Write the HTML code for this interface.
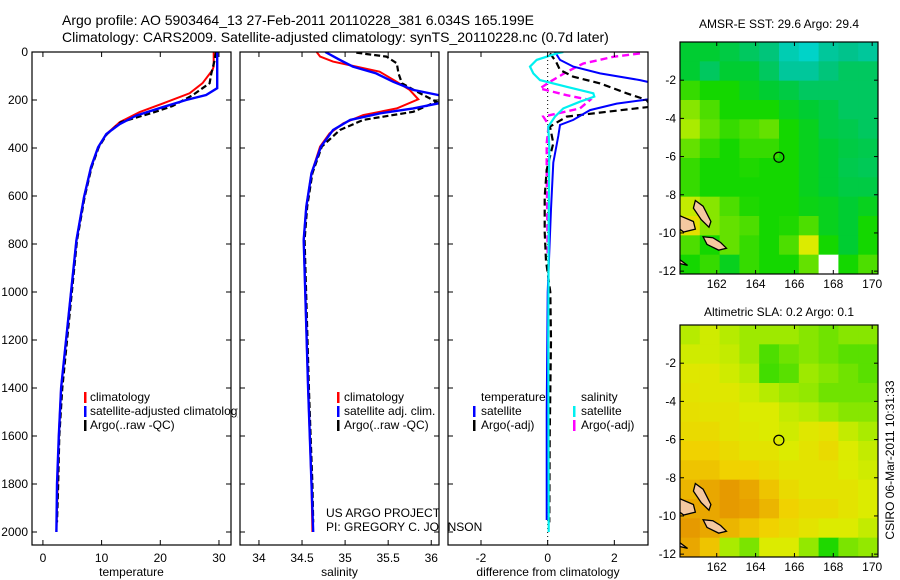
<!DOCTYPE html>
<html><head><meta charset="utf-8"><style>
html,body{margin:0;padding:0;background:#fff;}
svg{display:block;font-family:"Liberation Sans",sans-serif;}
</style></head><body>
<svg id="fig" width="900" height="580" xmlns="http://www.w3.org/2000/svg">
<rect width="900" height="580" fill="#fff"/>
<text x="62" y="25" font-size="14">Argo profile: AO 5903464_13 27-Feb-2011 20110228_381 6.034S 165.199E</text>
<text x="62" y="42" font-size="14">Climatology: CARS2009. Satellite-adjusted climatology: synTS_20110228.nc (0.7d later)</text>
<g id="root"></g>
</svg>
<script>
// ---------- data ----------
const tempClimDepth=[0,60,75,130,172,215,250,292,342,397,480,605,785,1400,1600,1800,2000];
const tempClim=[29.1,29.1,28.9,27.2,25.0,20.4,16.5,13.1,10.8,9.4,8.2,7.0,5.7,3.1,2.7,2.5,2.3];
const tempSatDepth=[0,151,179,200,230,265,300,342,397,480,605,785,1400,1600,1800,2000];
const tempSat=[29.7,29.7,27.8,24.4,20.4,15.9,13.1,10.8,9.4,8.2,7.0,5.7,3.1,2.7,2.4,2.3];
const tempArgoDepth=[0,40,90,130,180,225,253,292,342,397,480,605,785,1400,1600,1800,1960];
const tempArgo=[29.5,29.2,28.7,28.4,25.5,22.1,18.7,13.3,10.9,9.5,8.3,7.1,5.8,3.3,2.8,2.6,2.4];

const salClimDepth=[0,19,40,61,82,124,158,197,235,263,297,339,394,505,644,783,1400,1600,1800,2000];
const salClim=[34.67,34.71,34.86,35.13,35.40,35.60,35.75,35.85,35.60,35.21,34.98,34.82,34.71,34.61,34.55,34.52,34.57,34.59,34.61,34.62];
const salSatDepth=[0,33,61,89,124,158,179,195,214,235,256,283,325,394,505,644,783,1400,1600,1800,2000];
const salSat=[34.77,34.94,35.09,35.36,35.56,35.79,36.08,36.25,36.08,35.79,35.40,35.06,34.86,34.72,34.61,34.55,34.52,34.57,34.59,34.61,34.63];
const salArgoDepth=[3,19,47,89,131,172,207,249,283,325,394,505,644,783,1400,1600,1800,1960];
const salArgo=[35.13,35.48,35.60,35.62,35.66,35.87,36.06,35.79,35.21,34.94,34.73,34.62,34.56,34.53,34.58,34.60,34.62,34.63];

const dTempSatDepth=[0,33,61,89,117,131,194,215,242,283,304,350,461,655,1000,1500,1950];
const dTempSat=[0.22,0.37,0.77,1.57,2.77,3.2,3.2,2.07,1.27,0.77,0.37,0.32,0.17,0.1,0.0,-0.03,-0.03];
const dTempArgoDepth=[6,40,75,103,131,172,200,228,249,269,311,380,491,603,750,870,1000,1200,1600,1960];
const dTempArgo=[0.07,0.25,0.37,0.77,1.57,2.37,2.97,3.1,1.77,0.57,0.07,0.17,-0.03,-0.09,-0.09,-0.05,0.08,0.1,0.06,0.05];
const dSalSatDepth=[0,6,33,61,89,117,145,172,186,207,235,269,311,400,700,1200,2000];
const dSalSat=[0.47,0.27,-0.33,-0.53,-0.43,-0.23,0.57,1.37,1.40,0.97,0.47,0.22,0.02,0.05,0.03,0.02,0.03];
const dSalArgoDepth=[6,20,48,83,124,152,180,200,235,269,304,380,491,845];
const dSalArgo=[2.77,1.97,1.07,0.57,0.07,-0.23,0.57,1.27,0.97,-0.13,0.03,-0.03,-0.03,0.0];

// map values on colour scale (0..1), -1 = missing; rows lat 0..-12, cols lon 160.1..170.3
const sstGrid=[
[0.50,0.50,0.48,0.45,0.42,0.35,0.32,0.38,0.40,0.38],
[0.50,0.45,0.50,0.50,0.45,0.38,0.38,0.42,0.45,0.45],
[0.58,0.55,0.55,0.52,0.50,0.48,0.45,0.45,0.45,0.45],
[0.65,0.60,0.55,0.55,0.55,0.52,0.50,0.48,0.45,0.45],
[0.68,0.62,0.58,0.60,0.62,0.55,0.52,0.48,0.47,0.45],
[0.62,0.58,0.55,0.58,0.58,0.55,0.52,0.50,0.48,0.47],
[0.58,0.55,0.55,0.56,0.55,0.55,0.52,0.50,0.47,0.46],
[0.58,0.55,0.55,0.55,0.55,0.55,0.52,0.50,0.48,0.48],
[0.70,0.65,0.60,0.56,0.55,0.55,0.53,0.52,0.50,0.52],
[0.75,0.65,0.62,0.60,0.55,0.56,0.60,0.52,0.50,0.55],
[0.60,0.55,0.62,0.58,0.55,0.60,0.72,0.55,0.50,0.55],
[0.55,0.58,0.52,0.58,0.55,0.55,0.62,-1,0.55,0.60]];
const slaGrid=[
[0.69,0.71,0.69,0.67,0.67,0.67,0.65,0.63,0.65,0.65],
[0.71,0.71,0.70,0.67,0.60,0.63,0.65,0.63,0.61,0.61],
[0.73,0.73,0.71,0.69,0.59,0.61,0.67,0.65,0.63,0.61],
[0.74,0.73,0.73,0.71,0.69,0.67,0.66,0.63,0.63,0.63],
[0.75,0.74,0.74,0.72,0.72,0.70,0.69,0.67,0.65,0.65],
[0.76,0.76,0.74,0.73,0.72,0.71,0.73,0.74,0.70,0.68],
[0.78,0.78,0.76,0.74,0.74,0.72,0.74,0.76,0.72,0.70],
[0.80,0.80,0.78,0.78,0.76,0.74,0.74,0.74,0.72,0.71],
[0.82,0.84,0.86,0.84,0.80,0.76,0.74,0.74,0.74,0.72],
[0.84,0.84,0.86,0.85,0.82,0.78,0.76,0.76,0.74,0.72],
[0.86,0.84,0.82,0.80,0.78,0.76,0.74,0.72,0.72,0.70],
[0.84,0.80,0.68,0.64,0.72,0.72,0.66,0.56,0.64,0.66]];
const floatLon=165.199, floatLat=-6.034;
const depthTicks=[0,200,400,600,800,1000,1200,1400,1600,1800,2000];
const tempTicks=[0,10,20,30];
const salTicks=[34,34.5,35,35.5,36];
const diffTicks=[-2,0,2];
const latTicks=[-2,-4,-6,-8,-10,-12];
const lonTicks=[162,164,166,168,170];

// ---------- helpers ----------
const NS='http://www.w3.org/2000/svg';
const root=document.getElementById('root');
function mk(tag,attrs,parent){const e=document.createElementNS(NS,tag);for(const k in attrs)e.setAttribute(k,attrs[k]);(parent||root).appendChild(e);return e;}
const yTop=52, yBot=545, pxPerM=0.24;
const yDepth=d=>yTop+d*pxPerM;
const defs=mk('defs',{});

const panels=[
 {id:'temp',x0:32,x1:231,v0:-1.86,v1:32.05,ticks:tempTicks,label:'temperature'},
 {id:'sal',x0:240,x1:439,v0:33.78,v1:36.09,ticks:salTicks,label:'salinity'},
 {id:'diff',x0:448,x1:648,v0:-2.99,v1:3.01,ticks:diffTicks,label:'difference from climatology'}];
panels.forEach(p=>{p.sx=v=>p.x0+(v-p.v0)/(p.v1-p.v0)*(p.x1-p.x0);
 const cp=mk('clipPath',{id:'clip-'+p.id},defs);mk('rect',{x:p.x0,y:yTop,width:p.x1-p.x0,height:yBot-yTop},cp);});

function drawLine(p,depths,vals,color,w,dash,name){
 const pts=depths.map((d,i)=>p.sx(vals[i]).toFixed(1)+','+yDepth(d).toFixed(1)).join(' ');
 const e=mk('polyline',{points:pts,fill:'none',stroke:color,'stroke-width':w,'clip-path':'url(#clip-'+p.id+')'});
 if(dash)e.setAttribute('stroke-dasharray',dash);
 
 
}
const [pT,pS,pD]=panels;
drawLine(pT,tempClimDepth,tempClim,'#f00',2,null,'temp-climatology-line');
drawLine(pT,tempArgoDepth,tempArgo,'#000',2.2,'6,3','temp-argo-line');
drawLine(pT,tempSatDepth,tempSat,'#0000ff',2.4,null,'temp-satellite-line');
drawLine(pS,salClimDepth,salClim,'#f00',2,null,'sal-climatology-line');
drawLine(pS,salArgoDepth,salArgo,'#000',2.2,'6,3','sal-argo-line');
drawLine(pS,salSatDepth,salSat,'#0000ff',2.4,null,'sal-satellite-line');
const zl=mk('line',{x1:pD.sx(0),x2:pD.sx(0),y1:yTop,y2:yBot,stroke:'#000','stroke-width':1,'stroke-dasharray':'1,3'});


drawLine(pD,dSalArgoDepth,dSalArgo,'#f0f',2.4,'7,4','diff-sal-argo-line');
drawLine(pD,dTempArgoDepth,dTempArgo,'#000',2.2,'7,4','diff-temp-argo-line');
drawLine(pD,dTempSatDepth,dTempSat,'#0000ff',2,null,'diff-temp-satellite-line');
drawLine(pD,dSalSatDepth,dSalSat,'#00f0f0',2.2,null,'diff-sal-satellite-line');

function txt(x,y,s,attrs,name,parent){const e=mk('text',Object.assign({x:x,y:y,'font-size':12},attrs||{}),parent);e.textContent=s;
 
 return e;}
// legends
const legClip=mk('clipPath',{id:'clip-leg1'},defs);mk('rect',{x:0,y:0,width:238,height:580},legClip);
function legItem(mx,tx,y,color,s,name,clip){
 mk('rect',{x:mx,y:y-9,width:2.5,height:11,fill:color});
 const t=txt(tx,y,s,clip?{'clip-path':'url(#'+clip+')'}:{},name);}
legItem(84,90,401,'#f00','climatology','legend-temp-climatology');
legItem(84,90,415,'#0000ff','satellite-adjusted climatology','legend-temp-satellite','clip-leg1');
legItem(84,90,429,'#000','Argo(..raw -QC)','legend-temp-argo');
legItem(337,344,401,'#f00','climatology','legend-sal-climatology');
legItem(337,344,415,'#0000ff','satellite adj. clim.','legend-sal-satellite');
legItem(337,344,429,'#000','Argo(..raw -QC)','legend-sal-argo');
txt(481,401,'temperature',{},'legend-temp-header');
txt(581,401,'salinity',{},'legend-sal-header');
legItem(473,481,415,'#0000ff','satellite','legend-diff-temp-satellite');
legItem(473,481,429,'#000','Argo(-adj)','legend-diff-temp-argo');
legItem(573,581,415,'#00f0f0','satellite','legend-diff-sal-satellite');
legItem(573,581,429,'#f0f','Argo(-adj)','legend-diff-sal-argo');
txt(326,517,'US ARGO PROJECT',{},'credit-project');
txt(326,531,'PI: GREGORY C. JOHNSON',{},'credit-pi');
mk('rect',{x:439.5,y:505,width:8,height:40,fill:'#fff'});

// frames, ticks, labels
panels.forEach(p=>{
 const f=mk('rect',{x:p.x0,y:yTop,width:p.x1-p.x0,height:yBot-yTop,fill:'none',stroke:'#000','stroke-width':1.2});
 
 
 depthTicks.forEach(d=>{const y=yDepth(d);
  mk('line',{x1:p.x0,x2:p.x0+5,y1:y,y2:y,stroke:'#000'});mk('line',{x1:p.x1-5,x2:p.x1,y1:y,y2:y,stroke:'#000'});
  if(p.id==='temp')txt(28,y+4,String(d),{'text-anchor':'end'},'depth-tick-label');});
 p.ticks.forEach(v=>{const x=p.sx(v);
  mk('line',{x1:x,x2:x,y1:yBot-5,y2:yBot,stroke:'#000'});mk('line',{x1:x,x2:x,y1:yTop,y2:yTop+5,stroke:'#000'});
  txt(x,562,String(v),{'text-anchor':'middle'},p.id+'-x-tick-label');});
 txt((p.x0+p.x1)/2,576,p.label,{'text-anchor':'middle'},p.id+'-x-axis-title');
});

// maps
function cmap(v){
 const st=[[0.3,0,215,215],[0.4,0,195,140],[0.5,0,205,50],[0.55,20,215,0],[0.62,100,225,0],[0.68,170,235,0],[0.72,220,235,0],[0.78,240,210,0],[0.85,232,160,0],[0.9,220,130,0]];
 if(v<=st[0][0])return 'rgb('+st[0].slice(1)+')';
 for(let i=1;i<st.length;i++){if(v<=st[i][0]){const a=st[i-1],b=st[i],t=(v-a[0])/(b[0]-a[0]);
  return 'rgb('+[1,2,3].map(k=>Math.round(a[k]+(b[k]-a[k])*t)).join(',')+')';}}
 return 'rgb('+st[st.length-1].slice(1)+')';}
const islands=[
 [[160.9,-8.3],[161.3,-8.6],[161.7,-9.4],[161.6,-9.7],[161.2,-9.3],[160.8,-8.7]],
 [[160.1,-9.1],[160.8,-9.4],[160.9,-9.8],[160.3,-9.95],[160.1,-9.8]],
 [[161.3,-10.2],[161.8,-10.25],[162.2,-10.5],[162.5,-10.8],[162.1,-10.9],[161.5,-10.6]],
 [[160.1,-11.4],[160.5,-11.7],[160.1,-11.6]]];
function drawMap(name,y0,y1,grid,title,titleY){
 const x0=680,x1=878,lon0=160.11,lon1=170.3,lat0=0,lat1=-12.15;
 const sx=l=>x0+(l-lon0)/(lon1-lon0)*(x1-x0), sy=l=>y0+(l-lat0)/(lat1-lat0)*(y1-y0);
 const g=mk('g',{});
 
 
 const cp=mk('clipPath',{id:'clip-'+name},defs);mk('rect',{x:x0,y:y0,width:x1-x0,height:y1-y0},cp);
 const cg=mk('g',{'clip-path':'url(#clip-'+name+')'},g);
 const nr=grid.length,nc=grid[0].length,dlon=(lon1-lon0)/nc,dlat=(lat1-lat0)/nr;
 grid.forEach((row,r)=>row.forEach((v,c)=>{
  const xa=sx(lon0+c*dlon),xb=sx(lon0+(c+1)*dlon),ya=sy(lat0+r*dlat),yb=sy(lat0+(r+1)*dlat);
  const cell=mk('rect',{x:xa,y:ya,width:xb-xa+0.5,height:yb-ya+0.5,fill:v<0?'#fff':cmap(v)},cg);
  
  }));
 islands.forEach(poly=>{const e=mk('polygon',{points:poly.map(p=>sx(p[0])+','+sy(p[1])).join(' '),fill:'#f5c8a0',stroke:'#000','stroke-width':1.3},cg);
  
  });
 const c=mk('circle',{cx:sx(floatLon),cy:sy(floatLat),r:5,fill:'none',stroke:'#000','stroke-width':1.2},g);
 
 
 mk('rect',{x:x0,y:y0,width:x1-x0,height:y1-y0,fill:'none',stroke:'#000','stroke-width':1.2},g);
 latTicks.forEach(l=>{const y=sy(l);mk('line',{x1:x0,x2:x0+4,y1:y,y2:y,stroke:'#000'},g);mk('line',{x1:x1-4,x2:x1,y1:y,y2:y,stroke:'#000'},g);
  txt(676,y+4,String(l),{'text-anchor':'end'},'lat-tick-label',g);});
 lonTicks.forEach(l=>{const x=sx(l);mk('line',{x1:x,x2:x,y1:y1-4,y2:y1,stroke:'#000'},g);mk('line',{x1:x,x2:x,y1:y0,y2:y0+4,stroke:'#000'},g);
  txt(x,y1+14,String(l),{'text-anchor':'middle'},'lon-tick-label',g);});
 txt(779,titleY,title,{'text-anchor':'middle'},name+'-title',g);
}
drawMap('sst-map',42,274,sstGrid,'AMSR-E SST: 29.6 Argo: 29.4',28);
drawMap('sla-map',325,557,slaGrid,'Altimetric SLA: 0.2 Argo: 0.1',316);
const ts=txt(0,0,'CSIRO 06-Mar-2011 10:31:33',{'text-anchor':'middle',transform:'translate(894,460) rotate(-90)'},'timestamp-label');
</script>
</body></html>
